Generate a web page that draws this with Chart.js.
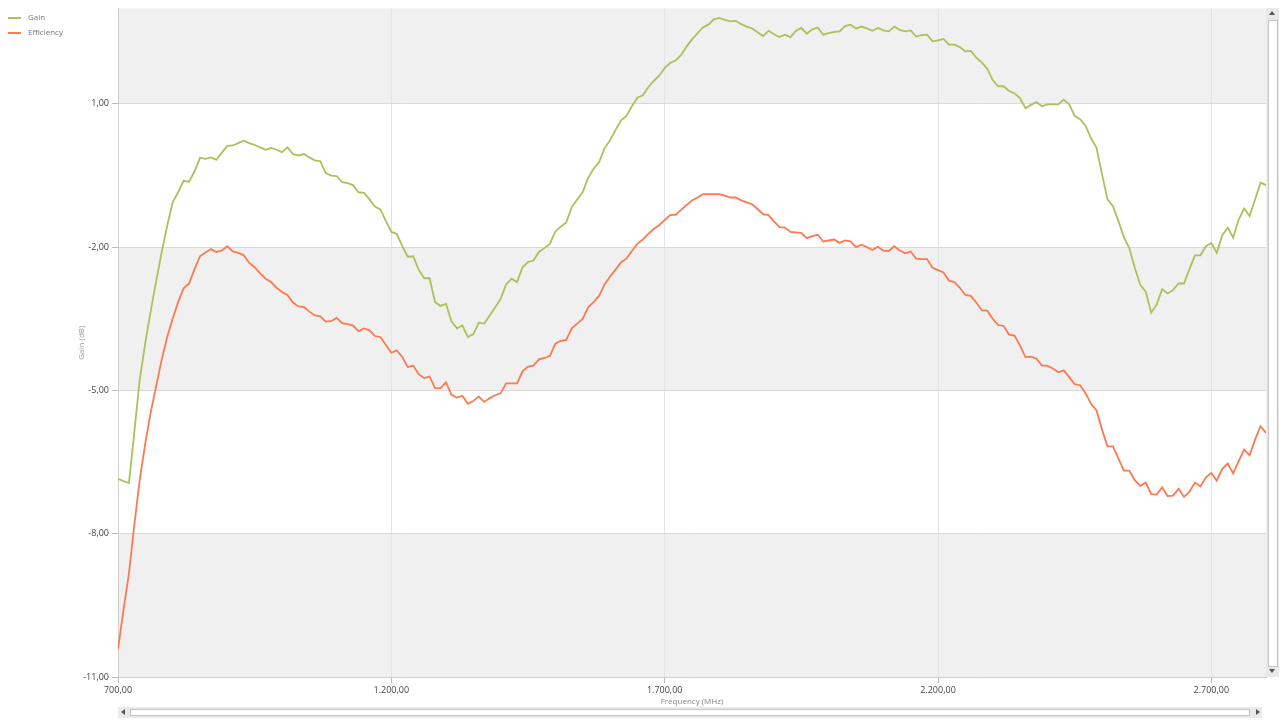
<!DOCTYPE html>
<html>
<head>
<meta charset="utf-8">
<script src="https://cdn.jsdelivr.net/npm/chart.js@4.4.1/dist/chart.umd.min.js"></script>
<style>
  body { margin: 0; background: #fff; font-family: "Open Sans", "Noto Sans", sans-serif; }
  #wrap { position: relative; width: 1282px; height: 720px; }
  #legend { position: absolute; left: 8px; top: 11px; font-size: 8px; color: #777; }
  #legend div { height: 15px; line-height: 12px; }
  #legend span.sw { display: inline-block; width: 13px; height: 2px; vertical-align: middle; margin-right: 7px; }
  .vbar { position: absolute; left: 1266px; top: 8px; width: 13px; height: 669px; background: #e9e9e9; }
  .hbar { position: absolute; left: 118px; top: 707px; width: 1144px; height: 11px; background: #e9e9e9; }
  .thumbv { position: absolute; left: 2px; top: 12px; width: 8px; height: 645px; background: #fff; border: 1px solid #c4c4c4; }
  .thumbh { position: absolute; left: 12px; top: 2px; width: 1118px; height: 5px; background: #fff; border: 1px solid #c4c4c4; }
  .arr { position: absolute; width: 0; height: 0; }
</style>
</head>
<body>
<div id="wrap">
  <canvas id="chart" width="1282" height="720"></canvas>
  <div id="legend"></div>
  <div class="vbar">
    <div class="arr" style="left:3px;top:3px;border-left:3px solid transparent;border-right:3px solid transparent;border-bottom:4px solid #555;"></div>
    <div class="thumbv"></div>
    <div class="arr" style="left:3px;top:661px;border-left:3px solid transparent;border-right:3px solid transparent;border-top:4px solid #555;"></div>
  </div>
  <div class="hbar">
    <div class="arr" style="left:3px;top:2px;border-top:3px solid transparent;border-bottom:3px solid transparent;border-right:4px solid #555;"></div>
    <div class="thumbh"></div>
    <div class="arr" style="left:1138px;top:2px;border-top:3px solid transparent;border-bottom:3px solid transparent;border-left:4px solid #555;"></div>
  </div>
</div>
<script>
const freq = [
  700, 710, 720, 730, 740, 750, 760, 770, 780, 790,
  800, 810, 820, 830, 840, 850, 860, 870, 880, 890,
  900, 910, 920, 930, 940, 950, 960, 970, 980, 990,
  1000, 1010, 1020, 1030, 1040, 1050, 1060, 1070, 1080, 1090,
  1100, 1110, 1120, 1130, 1140, 1150, 1160, 1170, 1180, 1190,
  1200, 1210, 1220, 1230, 1240, 1250, 1260, 1270, 1280, 1290,
  1300, 1310, 1320, 1330, 1340, 1350, 1360, 1370, 1380, 1390,
  1400, 1410, 1420, 1430, 1440, 1450, 1460, 1470, 1480, 1490,
  1500, 1510, 1520, 1530, 1540, 1550, 1560, 1570, 1580, 1590,
  1600, 1610, 1620, 1630, 1640, 1650, 1660, 1670, 1680, 1690,
  1700, 1710, 1720, 1730, 1740, 1750, 1760, 1770, 1780, 1790,
  1800, 1810, 1820, 1830, 1840, 1850, 1860, 1870, 1880, 1890,
  1900, 1910, 1920, 1930, 1940, 1950, 1960, 1970, 1980, 1990,
  2000, 2010, 2020, 2030, 2040, 2050, 2060, 2070, 2080, 2090,
  2100, 2110, 2120, 2130, 2140, 2150, 2160, 2170, 2180, 2190,
  2200, 2210, 2220, 2230, 2240, 2250, 2260, 2270, 2280, 2290,
  2300, 2310, 2320, 2330, 2340, 2350, 2360, 2370, 2380, 2390,
  2400, 2410, 2420, 2430, 2440, 2450, 2460, 2470, 2480, 2490,
  2500, 2510, 2520, 2530, 2540, 2550, 2560, 2570, 2580, 2590,
  2600, 2610, 2620, 2630, 2640, 2650, 2660, 2670, 2680, 2690,
  2700, 2710, 2720, 2730, 2740, 2750, 2760, 2770, 2780, 2790,
  2800
];

const gain = [
  -6.85, -6.90, -6.94, -5.85, -4.75, -4.00, -3.33, -2.70, -2.10, -1.55,
  -1.06, -0.85, -0.61, -0.63, -0.41, -0.13, -0.15, -0.12, -0.17, -0.02,
  0.12, 0.13, 0.18, 0.23, 0.18, 0.14, 0.09, 0.04, 0.08, 0.04,
  -0.01, 0.09, -0.05, -0.08, -0.05, -0.12, -0.18, -0.20, -0.45, -0.50,
  -0.51, -0.64, -0.66, -0.70, -0.85, -0.86, -1.00, -1.15, -1.21, -1.45,
  -1.68, -1.72, -1.98, -2.20, -2.19, -2.47, -2.65, -2.65, -3.15, -3.23,
  -3.19, -3.55, -3.70, -3.64, -3.88, -3.82, -3.58, -3.60, -3.43, -3.26,
  -3.08, -2.78, -2.66, -2.73, -2.42, -2.31, -2.28, -2.10, -2.02, -1.93,
  -1.67, -1.57, -1.48, -1.16, -1.00, -0.85, -0.55, -0.36, -0.22, 0.07,
  0.24, 0.45, 0.65, 0.75, 0.95, 1.13, 1.18, 1.35, 1.48, 1.59,
  1.75, 1.86, 1.91, 2.02, 2.20, 2.35, 2.48, 2.60, 2.66, 2.77,
  2.80, 2.76, 2.73, 2.74, 2.67, 2.62, 2.58, 2.50, 2.42, 2.53,
  2.46, 2.40, 2.45, 2.40, 2.53, 2.59, 2.47, 2.56, 2.60, 2.45,
  2.48, 2.51, 2.52, 2.63, 2.66, 2.58, 2.62, 2.58, 2.53, 2.59,
  2.54, 2.52, 2.62, 2.55, 2.52, 2.54, 2.41, 2.44, 2.45, 2.31,
  2.33, 2.36, 2.24, 2.24, 2.19, 2.10, 2.11, 1.97, 1.87, 1.74,
  1.50, 1.37, 1.37, 1.27, 1.22, 1.12, 0.91, 0.98, 1.04, 0.95,
  0.99, 0.99, 0.99, 1.09, 0.99, 0.75, 0.68, 0.54, 0.28, 0.08,
  -0.47, -1.00, -1.14, -1.45, -1.79, -2.02, -2.43, -2.79, -2.93, -3.37,
  -3.20, -2.88, -2.97, -2.90, -2.76, -2.76, -2.46, -2.17, -2.17, -1.98,
  -1.91, -2.12, -1.75, -1.59, -1.80, -1.42, -1.19, -1.35, -1.00, -0.65,
  -0.70
];

const efficiency = [
  -10.42, -9.60, -8.83, -7.80, -6.85, -6.10, -5.45, -4.90, -4.35, -3.88,
  -3.50, -3.15, -2.86, -2.76, -2.46, -2.19, -2.11, -2.04, -2.10, -2.07,
  -1.98, -2.09, -2.12, -2.17, -2.33, -2.42, -2.55, -2.66, -2.73, -2.85,
  -2.94, -3.00, -3.16, -3.24, -3.25, -3.35, -3.43, -3.45, -3.56, -3.55,
  -3.48, -3.59, -3.61, -3.64, -3.76, -3.70, -3.74, -3.86, -3.88, -4.05,
  -4.21, -4.16, -4.30, -4.51, -4.48, -4.66, -4.74, -4.71, -4.95, -4.95,
  -4.83, -5.09, -5.15, -5.11, -5.28, -5.22, -5.13, -5.24, -5.16, -5.10,
  -5.06, -4.85, -4.85, -4.85, -4.60, -4.50, -4.48, -4.35, -4.32, -4.28,
  -4.02, -3.96, -3.94, -3.70, -3.60, -3.50, -3.26, -3.15, -3.02, -2.78,
  -2.62, -2.47, -2.32, -2.24, -2.08, -1.93, -1.84, -1.72, -1.62, -1.54,
  -1.43, -1.33, -1.32, -1.22, -1.12, -1.02, -0.96, -0.89, -0.89, -0.89,
  -0.89, -0.92, -0.96, -0.96, -1.02, -1.06, -1.10, -1.20, -1.31, -1.33,
  -1.46, -1.58, -1.59, -1.68, -1.69, -1.70, -1.81, -1.77, -1.74, -1.88,
  -1.86, -1.84, -1.91, -1.86, -1.88, -2.00, -1.95, -2.00, -2.06, -1.99,
  -2.07, -2.08, -1.98, -2.07, -2.13, -2.09, -2.24, -2.25, -2.25, -2.43,
  -2.48, -2.53, -2.70, -2.73, -2.85, -3.00, -3.02, -3.16, -3.32, -3.33,
  -3.50, -3.63, -3.65, -3.83, -3.85, -4.06, -4.30, -4.29, -4.33, -4.48,
  -4.48, -4.54, -4.62, -4.58, -4.72, -4.87, -4.89, -5.06, -5.28, -5.42,
  -5.82, -6.17, -6.17, -6.42, -6.68, -6.68, -6.88, -7.00, -6.93, -7.17,
  -7.18, -7.03, -7.21, -7.20, -7.06, -7.23, -7.12, -6.93, -7.01, -6.82,
  -6.73, -6.89, -6.64, -6.53, -6.74, -6.48, -6.24, -6.36, -6.03, -5.75,
  -5.89
];

const xTicks = [700, 1200, 1700, 2200, 2700];
const yTicks = [-11, -8, -5, -2, 1];
// gray bands, from - to
const bands = [[-11, -8], [-5, -2], [1, 3]];

const seriesNames = ['Gain', 'Efficiency'];
const seriesColors = ['#a9c25a', '#fb7a52'];

// 1200 -> "1.200,00"
const fmt = (v) => {
  const parts = Math.abs(v).toFixed(2).split('.');
  const intPart = parts[0].replace(/\B(?=(\d{3})+(?!\d))/g, '.');
  return (v < 0 ? '-' : '') + intPart + ',' + parts[1];
};

const legendEl = document.getElementById('legend');
seriesNames.forEach((name, i) => {
  const row = document.createElement('div');
  row.innerHTML = '<span class="sw" style="background:' + seriesColors[i] + '"></span>' + name;
  legendEl.appendChild(row);
});

const bandPlugin = {
  id: 'bands',
  beforeDraw(chart) {
    const {ctx, chartArea, scales} = chart;
    ctx.save();
    ctx.fillStyle = '#f0f0f0';
    bands.forEach(([a, b]) => {
      const y1 = scales.y.getPixelForValue(b);
      const y2 = scales.y.getPixelForValue(a);
      ctx.fillRect(chartArea.left, y1, chartArea.right - chartArea.left, y2 - y1);
    });
    ctx.restore();
  }
};

const toPoints = (vals) => vals.map((v, i) => ({x: freq[i], y: v}));

const config = {
  type: 'line',
  data: {
    datasets: [
      {label: seriesNames[0], data: toPoints(gain), borderColor: seriesColors[0], borderWidth: 1.8, pointRadius: 0, tension: 0},
      {label: seriesNames[1], data: toPoints(efficiency), borderColor: seriesColors[1], borderWidth: 1.8, pointRadius: 0, tension: 0},
    ]
  },
  options: {
    responsive: false,
    animation: false,
    layout: {padding: {top: 7, right: 16, bottom: 0, left: 0}},
    plugins: {legend: {display: false}, tooltip: {enabled: false}},
    scales: {
      x: {
        type: 'linear',
        min: 700,
        max: 2800,
        afterBuildTicks: (axis) => { axis.ticks = xTicks.map(v => ({value: v})); },
        afterFit: (axis) => { axis.height = 43; },
        grid: {color: '#e3e3e3', tickLength: 6, tickColor: '#bbb'},
        border: {color: '#cfcfcf'},
        ticks: {
          callback: (v) => fmt(v),
          color: '#444',
          font: {family: 'Open Sans', size: 9},
          padding: 2,
          maxRotation: 0,
        },
        title: {
          display: true,
          text: 'Frequency (MHz)',
          color: '#888',
          font: {family: 'Open Sans', size: 8},
          padding: {top: 0, bottom: 13},
        }
      },
      y: {
        min: -11,
        max: 3,
        afterBuildTicks: (axis) => { axis.ticks = yTicks.map(v => ({value: v})); },
        afterFit: (axis) => { axis.width = 118; },
        grid: {color: '#d9d9d9', tickLength: 6, tickColor: '#bbb'},
        border: {color: '#cfcfcf'},
        ticks: {
          callback: (v) => fmt(v),
          color: '#444',
          font: {family: 'Open Sans', size: 9},
          padding: 3,
        },
        title: {
          display: true,
          text: 'Gain (dB)',
          color: '#999',
          font: {family: 'Open Sans', size: 8},
          padding: {top: 77, bottom: 0},
        }
      }
    }
  },
  plugins: [bandPlugin]
};

const myChart = new Chart(document.getElementById('chart'), config);
</script>
</body>
</html>
